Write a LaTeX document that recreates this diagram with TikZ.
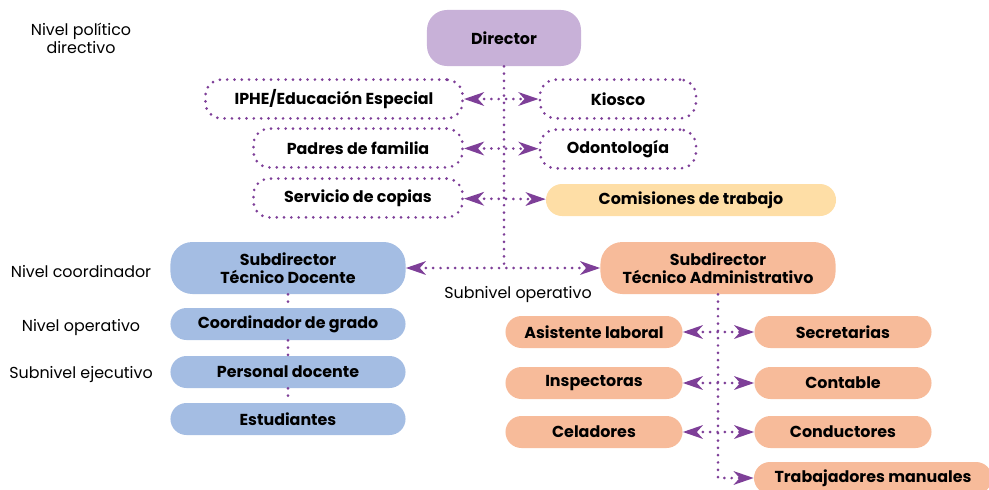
\documentclass[tikz,border=0pt]{standalone}
\usepackage{fontspec}
\setmainfont{Poppins}
\usetikzlibrary{arrows.meta}
\usetikzlibrary{shapes}
\definecolor{linkcol}{HTML}{7E3F98}
\definecolor{topcol}{HTML}{C8B1D8}
\definecolor{docentecol}{HTML}{A4BDE3}
\definecolor{admincol}{HTML}{F7BB9A}
\definecolor{comisioncol}{HTML}{FEDEA6}
\tikzstyle{Box}=[rectangle, inner sep=0pt, align=center, font=\bfseries\fontsize{11.3}{13.2}\selectfont]
\tikzstyle{TopNode}=[Box, fill=topcol, minimum width=3.85cm, minimum height=1.4cm, rounded corners=0.5cm]
\tikzstyle{DotLine}=[line width=2.1pt, dash pattern=on 0pt off 5.2pt, line cap=round]
\tikzstyle{ExtNode}=[Box, draw=linkcol, DotLine, minimum height=0.97cm, rounded corners=0.4cm]
\tikzstyle{PillNode}=[Box, minimum height=0.8cm, rounded corners=0.4cm]
\tikzstyle{SubNode}=[Box, minimum width=5.875cm, minimum height=1.3cm, rounded corners=0.55cm]
\tikzstyle{DocNode}=[PillNode, fill=docentecol, minimum width=5.875cm]
\tikzstyle{AdmNode}=[PillNode, fill=admincol, minimum width=4.425cm]
\tikzstyle{LevelLabel}=[align=center, font=\fontsize{11.3}{13}\selectfont]
\tikzstyle{Link}=[DotLine, draw=linkcol]
\tikzstyle{OneLink}=[Link, -{Stealth[length=0.5cm, width=0.34cm, inset=0.15cm]}]
\tikzstyle{BothLink}=[Link, {Stealth[length=0.5cm, width=0.34cm, inset=0.15cm]}-{Stealth[length=0.5cm, width=0.34cm, inset=0.15cm]}]

\begin{document}
\begin{tikzpicture}[x=0.025cm, y=-0.025cm]
\useasboundingbox (0,0) rectangle (989,489);

% niveles
\node[LevelLabel](NivPol) at (81,38) {Nivel político\\directivo};
\node[LevelLabel](NivCoord) at (81,272) {Nivel coordinador};
\node[LevelLabel](NivOper) at (81,328) {Nivel operativo};
\node[LevelLabel](SubEjec) at (81,375) {Subnivel ejecutivo};
\node[LevelLabel](SubOper) at (518,295) {Subnivel operativo};

% direccion
\node[TopNode](Director) at (504,38) {Director};
\node[ExtNode, minimum width=6.425cm](IPHE) at (334,99) {IPHE/Educación Especial};
\node[ExtNode, minimum width=3.9cm](Kiosco) at (618,99) {Kiosco};
\node[ExtNode, minimum width=5.225cm](Padres) at (358,148) {Padres de familia};
\node[ExtNode, minimum width=3.9cm](Odonto) at (618,149) {Odontología};
\node[ExtNode, minimum width=5.225cm](Copias) at (358,198) {Servicio de copias};
\node[PillNode, fill=comisioncol, minimum width=7.25cm](Comision) at (691,200) {Comisiones de trabajo};

% subdirecciones
\node[SubNode, fill=docentecol](SubDoc) at (288,268) {Subdirector\\Técnico Docente};
\node[SubNode, fill=admincol](SubAdm) at (718,268) {Subdirector\\Técnico Administrativo};

% rama docente
\node[DocNode](Coord) at (288,324) {Coordinador de grado};
\node[DocNode](Docente) at (288,372) {Personal docente};
\node[DocNode](Estud) at (288,419) {Estudiantes};

% rama administrativa
\node[AdmNode](Asist) at (594,332) {Asistente laboral};
\node[AdmNode](Secre) at (843,332) {Secretarias};
\node[AdmNode](Inspec) at (594,383) {Inspectoras};
\node[AdmNode](Contab) at (843,383) {Contable};
\node[AdmNode](Celad) at (594,432) {Celadores};
\node[AdmNode](Conduc) at (843,432) {Conductores};
\node[AdmNode, minimum width=5.95cm](Trab) at (873,478) {Trabajadores manuales};

\draw[Link](Director) -- (Director |- SubDoc);
\draw[BothLink](IPHE) -- (Kiosco);
\draw[BothLink](Padres) -- (Odonto);
\draw[BothLink](Copias) -- (Comision);
\draw[BothLink](SubDoc) -- (SubAdm);

\draw[Link](SubDoc) -- (Coord);
\draw[Link](Coord) -- (Docente);
\draw[Link](Docente) -- (Estud);

\draw[OneLink](SubAdm) |- (Trab);
\draw[BothLink](Asist) -- (Secre);
\draw[BothLink](Inspec) -- (Contab);
\draw[BothLink](Celad) -- (Conduc);
\end{tikzpicture}
\end{document}
